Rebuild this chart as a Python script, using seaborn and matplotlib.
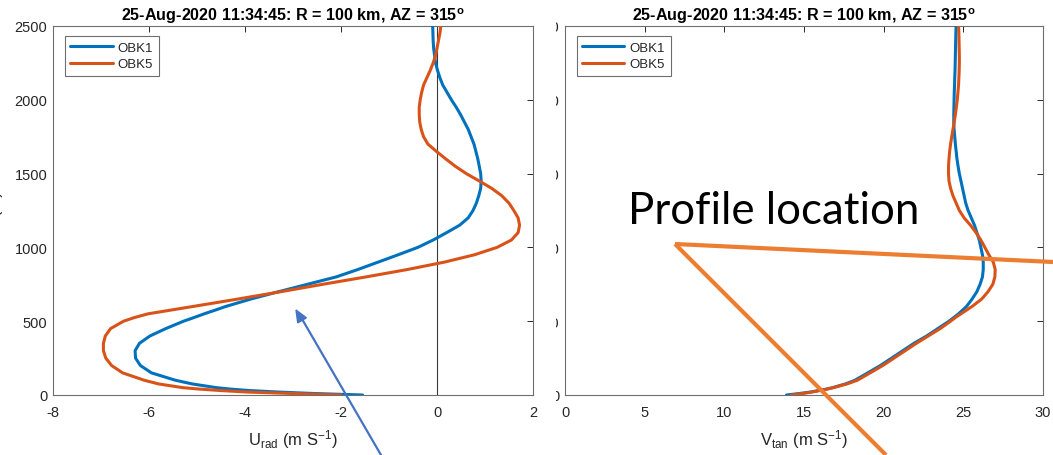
import numpy as np
import pandas as pd
import matplotlib
matplotlib.use("Agg")
import matplotlib.pyplot as plt
from matplotlib.lines import Line2D
from matplotlib.patches import Rectangle, Polygon
import seaborn as sns

# Height levels (m) shared by both soundings
z_levels = [0, 10, 20, 30, 40, 50, 75, 100, 150, 200, 250, 300, 350, 400, 450,
            500, 525, 550, 575, 600, 650, 700, 750, 800, 850, 900, 950, 1000,
            1050, 1100, 1150, 1200, 1250, 1300, 1350, 1400, 1450, 1500, 1550,
            1600, 1650, 1700, 1750, 1800, 1850, 1900, 1950, 2000, 2050, 2100,
            2150, 2200, 2250, 2300, 2350, 2400, 2450, 2500]

# Radial wind (m/s)
urad_obk1 = [-1.55, -2.55, -3.3, -3.9, -4.3, -4.6, -5.1, -5.45, -5.95, -6.18,
             -6.28, -6.29, -6.2, -5.98, -5.65, -5.28, -5.06, -4.85, -4.62, -4.4,
             -3.88, -3.3, -2.7, -2.1, -1.65, -1.23, -0.81, -0.4, -0.08, 0.2,
             0.47, 0.65, 0.75, 0.82, 0.87, 0.91, 0.92, 0.91, 0.88, 0.85, 0.81,
             0.77, 0.71, 0.65, 0.57, 0.49, 0.40, 0.30, 0.21, 0.12, 0.06, 0.01,
             -0.03, -0.05, -0.07, -0.08, -0.085, -0.09]
urad_obk5 = [-2.0, -3.0, -3.95, -4.5, -4.95, -5.3, -5.8, -6.1, -6.55, -6.78,
             -6.9, -6.95, -6.95, -6.91, -6.8, -6.53, -6.3, -6.02, -5.55, -5.08,
             -4.15, -3.25, -2.38, -1.48, -0.62, 0.15, 0.78, 1.25, 1.55, 1.69,
             1.72, 1.69, 1.6, 1.5, 1.35, 1.14, 0.88, 0.61, 0.38, 0.18, -0.01,
             -0.19, -0.28, -0.33, -0.36, -0.37, -0.37, -0.35, -0.32, -0.28,
             -0.21, -0.14, -0.08, -0.03, 0.0, 0.03, 0.06, 0.08]

# Tangential wind (m/s)
vtan_obk1 = [13.9, 14.7, 15.4, 15.9, 16.4, 16.8, 17.6, 18.2, 19.0, 19.8, 20.5,
             21.2, 21.9, 22.7, 23.4, 24.1, 24.4, 24.7, 24.95, 25.2, 25.55,
             25.85, 26.05, 26.2, 26.25, 26.25, 26.2, 26.1, 26.0, 25.85, 25.7,
             25.5, 25.3, 25.15, 25.05, 24.95, 24.85, 24.75, 24.67, 24.6, 24.55,
             24.5, 24.46, 24.42, 24.4, 24.4, 24.41, 24.42, 24.43, 24.45, 24.46,
             24.48, 24.49, 24.5, 24.51, 24.52, 24.53, 24.55]
vtan_obk5 = [14.2, 14.9, 15.5, 16.0, 16.45, 16.85, 17.7, 18.35, 19.15, 19.95,
             20.65, 21.35, 22.05, 22.8, 23.55, 24.2, 24.5, 24.85, 25.2, 25.55,
             26.15, 26.55, 26.85, 26.98, 27.0, 26.88, 26.6, 26.35, 26.1, 25.8,
             25.45, 25.05, 24.75, 24.55, 24.35, 24.2, 24.1, 24.07, 24.07, 24.1,
             24.14, 24.2, 24.27, 24.35, 24.43, 24.5, 24.56, 24.62, 24.66, 24.7,
             24.72, 24.74, 24.75, 24.75, 24.74, 24.73, 24.72, 24.7]

series_names = ["OBK1", "OBK5"]
title_text = r"25-Aug-2020 11:34:45: R = 100 km, AZ = 315$^{\mathbf{o}}$"
urad_ticks = [-8, -6, -4, -2, 0, 2]
vtan_ticks = [0, 5, 10, 15, 20, 25, 30]
z_ticks = [0, 500, 1000, 1500, 2000, 2500]

df = pd.concat([
    pd.DataFrame({"z": z_levels, "urad": urad_obk1, "vtan": vtan_obk1, "run": series_names[0]}),
    pd.DataFrame({"z": z_levels, "urad": urad_obk5, "vtan": vtan_obk5, "run": series_names[1]}),
], ignore_index=True)

sns.set_theme(style="white")
plt.rcParams["font.family"] = ["Liberation Sans", "DejaVu Sans"]
plt.rcParams["mathtext.fontset"] = "custom"
plt.rcParams["mathtext.rm"] = "Liberation Sans"
plt.rcParams["mathtext.it"] = "Liberation Sans"
plt.rcParams["mathtext.bf"] = "Liberation Sans:bold"

W, H = 1053, 456
fig = plt.figure(figsize=(W / 100, H / 100), dpi=100)
fig.patch.set_facecolor("white")

def fx(px):
    return px / W

def fy(py):
    return 1 - py / H

ax1 = fig.add_axes([fx(53), fy(396), fx(533) - fx(53), fy(27) - fy(396)])
ax2 = fig.add_axes([fx(565), fy(396), fx(1043) - fx(565), fy(27) - fy(396)])
ax2.set_zorder(0)
ax1.set_zorder(2)

palette = {"OBK1": "#0072BD", "OBK5": "#D95319"}
axis_col = "#262626"

ax1.axvline(0, color="#3a3a3a", lw=0.8, zorder=1)
sns.lineplot(data=df, x="urad", y="z", hue="run", palette=palette, orient="y",
             sort=False, estimator=None, lw=2.2, ax=ax1, zorder=3)
sns.lineplot(data=df, x="vtan", y="z", hue="run", palette=palette, orient="y",
             sort=False, estimator=None, lw=2.2, ax=ax2, zorder=3)

for ax, xt, xl in [(ax1, urad_ticks, r"U$_{\rm rad}$ (m S$^{-1}$)"),
                   (ax2, vtan_ticks, r"V$_{\rm tan}$ (m S$^{-1}$)")]:
    ax.set_xlim(xt[0], xt[-1])
    ax.set_ylim(0, 2500)
    ax.set_xticks(xt)
    ax.set_yticks(z_ticks)
    ax.set_xticklabels([str(t) for t in xt])
    ax.set_yticklabels([str(t) for t in z_ticks])
    ax.tick_params(direction="in", length=4, width=0.7, colors=axis_col,
                   labelsize=10.5, top=True, right=True, pad=4)
    ax.tick_params(axis="x", pad=7)
    for s in ax.spines.values():
        s.set_color("#6e6e6e")
        s.set_linewidth(0.8)
    ax.set_xlabel(xl, fontsize=12, color=axis_col, labelpad=6)
    ax.set_ylabel("")
    ax.set_title(title_text, fontsize=11.6, fontweight="bold", color="black", pad=4)
    leg = ax.legend(loc="upper left", bbox_to_anchor=(12 / 480, 1 - 10 / 369),
                    borderaxespad=0, fontsize=9.5, frameon=True, fancybox=False,
                    framealpha=1, edgecolor="#6e6e6e", handlelength=3.2,
                    handletextpad=0.4, borderpad=0.4, labelspacing=0.35)
    leg.get_frame().set_linewidth(0.8)
    for h in leg.get_lines():
        h.set_linewidth(2.2)

ax1.set_ylabel("Z (m)", fontsize=12, color=axis_col)
ax1.yaxis.set_label_coords(-0.104, 0.5)

# Panel gap: white strip over the right panel's height labels,
# drawn between the two panels' layers
fig.add_artist(Rectangle((fx(515), fy(403)), fx(556) - fx(515), fy(18) - fy(403),
                         transform=fig.transFigure, facecolor="white",
                         edgecolor="none", zorder=1))

# Overlay annotations
fig.text(fx(628), fy(224), "Profile location", fontsize=31.5, family="Lato",
         color="black", ha="left", va="baseline", zorder=30)

orange = "#ED7D31"
fig.add_artist(Line2D([fx(675), fx(1053)], [fy(245), fy(263)], color=orange,
                      lw=3, transform=fig.transFigure, zorder=30,
                      solid_capstyle="butt"))
fig.add_artist(Line2D([fx(675), fx(886)], [fy(245), fy(456)], color=orange,
                      lw=3, transform=fig.transFigure, zorder=30,
                      solid_capstyle="butt"))

blue = "#4472C4"
fig.add_artist(Line2D([fx(381), fx(302)], [fy(456), fy(320)], color=blue,
                      lw=1.6, transform=fig.transFigure, zorder=30))
# arrow head pointing to (296, 311)
tip = np.array([296.0, 311.0])
d = np.array([381.0 - 296.0, 456.0 - 311.0])
d = d / np.hypot(*d)
n = np.array([-d[1], d[0]])
base = tip + d * 12
p1 = base + n * 5
p2 = base - n * 5
fig.add_artist(Polygon([[fx(tip[0]), fy(tip[1])], [fx(p1[0]), fy(p1[1])],
                        [fx(p2[0]), fy(p2[1])]], closed=True,
                       transform=fig.transFigure, facecolor=blue,
                       edgecolor=blue, zorder=30))

fig.savefig("out.png", dpi=100, facecolor="white")
